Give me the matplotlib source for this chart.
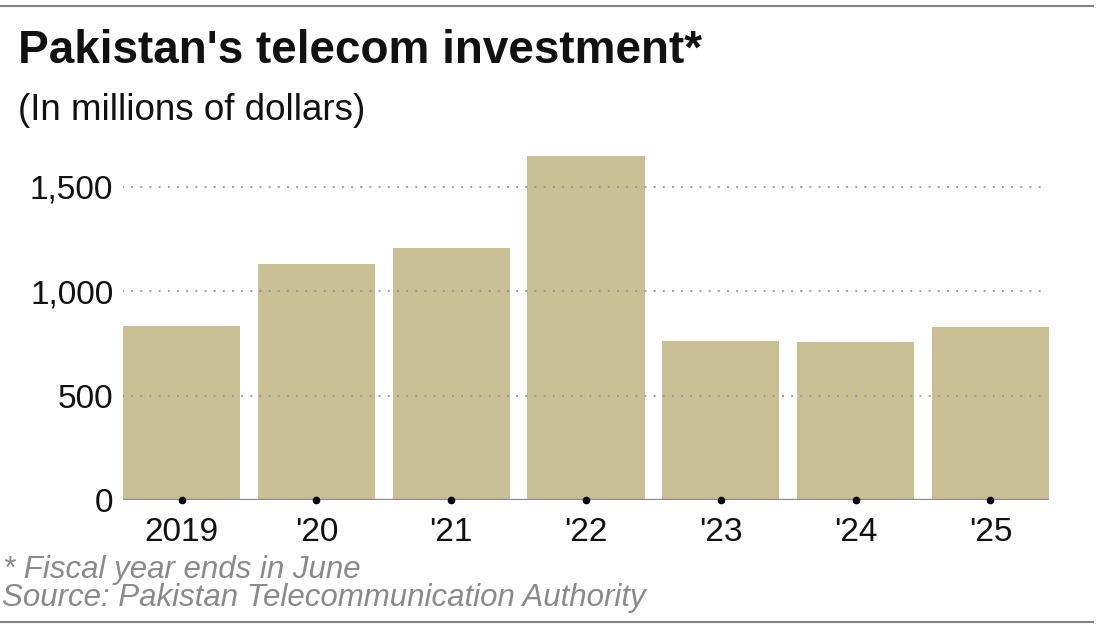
import matplotlib
matplotlib.use("Agg")
import matplotlib.pyplot as plt
from matplotlib.lines import Line2D
from matplotlib.ticker import FuncFormatter

plt.rcParams["font.family"] = ["Liberation Sans", "DejaVu Sans"]

# Dados (milhões de dólares, ano fiscal)
anos    = ["2019", "'20", "'21", "'22", "'23", "'24", "'25"]
valores = [835, 1131, 1207, 1648, 763, 758, 830]
y_ticks = [0, 500, 1000, 1500]

COR_BARRA = "#c9bf94"
COR_GRADE = "#8f8f8f"
COR_BORDA = "#858585"
COR_NOTA  = "#8a8a8a"

W, H = 1096, 630
fig = plt.figure(figsize=(W / 100, H / 100), dpi=100)

# eixos posicionados em pixels da referência
esq, dir_, base, topo = 123, 1049, 500, 145.2
ax = fig.add_axes([esq / W, 1 - base / H, (dir_ - esq) / W, (base - topo) / H])

x = list(range(len(anos)))
ax.bar(x, valores, width=0.868, color=COR_BARRA, zorder=1)
ax.set_xlim(-0.434, len(anos) - 1 + 0.434)
ax.set_ylim(0, 1700)

# grade pontilhada por cima das barras
for y in y_ticks[1:]:
    ax.axhline(y, xmin=-0.001, xmax=0.995, color=COR_GRADE, alpha=0.85,
               linewidth=1.5, linestyle=(0, (0.9, 3.5)), zorder=3)

# linha de base e pontos nos ticks
ax.axhline(0, color="#8c8c8c", linewidth=1.7, zorder=4)
ax.plot(x, [0] * len(x), "o", color="black", markersize=4.5, zorder=5,
        clip_on=False)

for s in ax.spines.values():
    s.set_visible(False)

ax.set_yticks(y_ticks)
ax.yaxis.set_major_formatter(FuncFormatter(lambda v, p: f"{int(v):,}"))
ax.set_xticks(x)
ax.set_xticklabels(anos)
ax.tick_params(axis="y", length=0, pad=7, labelsize=24, labelcolor="#111111")
ax.tick_params(axis="x", length=0, pad=12, labelsize=24, labelcolor="#111111")

# Títulos
fig.text(18 / W, 1 - 63 / H, "Pakistan's telecom investment*",
         fontsize=33, fontweight="bold", color="#111111", va="baseline")
fig.text(18 / W, 1 - 120 / H, "(In millions of dollars)",
         fontsize=26.5, color="#111111", va="baseline")

# Rodapé
fig.text(3 / W, 1 - 578 / H, "* Fiscal year ends in June",
         fontsize=22.5, style="italic", color=COR_NOTA, va="baseline")
fig.text(2 / W, 1 - 606 / H, "Source: Pakistan Telecommunication Authority",
         fontsize=22.5, style="italic", color=COR_NOTA, va="baseline")

# Bordas superior e inferior
for yb in (1 - 5.5 / H, 1 - 621.5 / H):
    fig.add_artist(Line2D([0, 1093 / W], [yb, yb], color=COR_BORDA,
                          linewidth=1.5, transform=fig.transFigure))

fig.savefig("out.png", dpi=100)
plt.close(fig)
